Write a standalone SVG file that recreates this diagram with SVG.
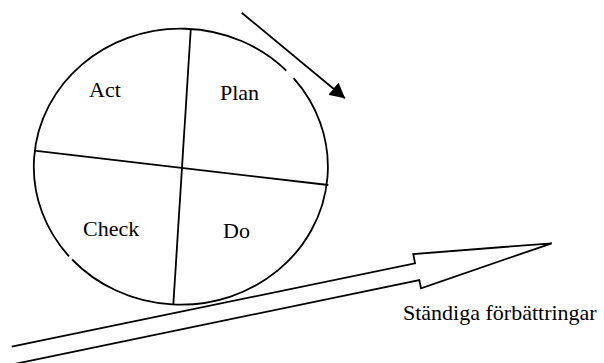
<svg xmlns="http://www.w3.org/2000/svg" width="604" height="363" viewBox="0 0 604 363">
<style>
.s{fill:none;stroke:#000;stroke-width:1.8;stroke-linejoin:miter}
.t{font-family:"Liberation Serif","Times New Roman",serif;font-size:22px;fill:#000}
</style>
<defs>
<marker id="ah" markerWidth="16" markerHeight="16" refX="15" refY="8" orient="auto" markerUnits="userSpaceOnUse">
<path d="M0,0 L15,8 L0,16 Z" fill="#000"/>
</marker>
</defs>
<rect width="604" height="363" fill="#fff"/>
<g id="cycle">
<path class="s" d="M293.6,78.1 A147,138 0 0 1 72.1,259.5"/>
<path class="s" d="M69.0,256.3 A147,138 0 0 1 286.3,70.6"/>
<line class="s" x1="190.7" y1="30" x2="173.3" y2="305"/>
<line class="s" x1="34.3" y1="150.7" x2="328.3" y2="185"/>
</g>
<g id="act"><text class="t" x="89" y="97">Act</text></g>
<g id="plan"><text class="t" x="220" y="100">Plan</text></g>
<g id="check"><text class="t" x="83" y="236">Check</text></g>
<g id="do"><text class="t" x="223" y="238">Do</text></g>
<g id="improvement">
<path class="s" fill="#fff" d="M11.7,346.7 L415,263.3 L413.3,254 L551.7,243.3 L421,288.3 L419.3,280 L14.5,364"/>
<text class="t" x="403" y="320">Ständiga förbättringar</text>
</g>
<g id="connectors">
<line class="s" x1="241.7" y1="12.7" x2="345" y2="98.3" marker-end="url(#ah)"/>
</g>
</svg>
